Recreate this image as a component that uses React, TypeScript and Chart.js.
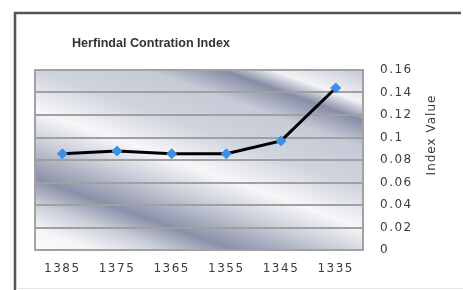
import React, { useEffect, useRef } from "react";
import { Chart, registerables } from "chart.js";

Chart.register(...registerables);

const categories = ["1385", "1375", "1365", "1355", "1345", "1335"];
const indexValues = [0.0855, 0.088, 0.0855, 0.0855, 0.097, 0.144];
const yMin = 0;
const yMax = 0.16;
const yStep = 0.02;
const chartTitle = "Herfindal Contration Index";
const yAxisTitle = "Index Value";

const gradientStops: [number, string][] = [
  [0, "#c4c9d4"],
  [0.11, "#f2f3f6"],
  [0.17, "#878da6"],
  [0.26, "#c6cad6"],
  [0.4, "#d0d4dd"],
  [0.53, "#f7f7f9"],
  [0.63, "#cbcfd9"],
  [0.76, "#8a90a9"],
  [0.84, "#c9cdd8"],
  [0.93, "#f6f6f8"],
  [1, "#fbfbfc"],
];

const decorPlugin = {
  id: "decor",
  beforeDraw(chart: any) {
    const ctx = chart.ctx as CanvasRenderingContext2D;
    const { left, top, right, bottom } = chart.chartArea;
    ctx.save();
    ctx.strokeStyle = "#555555";
    ctx.lineWidth = 2.5;
    ctx.beginPath();
    ctx.moveTo(15, 290);
    ctx.lineTo(15, 13);
    ctx.lineTo(461, 13);
    ctx.stroke();
    ctx.strokeStyle = "#e6e6e6";
    ctx.lineWidth = 1;
    ctx.beginPath();
    ctx.moveTo(16, 288.5);
    ctx.lineTo(463, 288.5);
    ctx.stroke();
    const w = right - left;
    const h = bottom - top;
    const s = 0.36;
    const t = (h + s * w) / (1 + s * s);
    const g = ctx.createLinearGradient(right, top, right - s * t, top + t);
    gradientStops.forEach(([o, c]) => g.addColorStop(o, c));
    ctx.fillStyle = g;
    ctx.fillRect(left, top, w, h);
    ctx.restore();
    (ctx as any).letterSpacing = "1.5px";
  },
  beforeDatasetsDraw(chart: any) {
    const ctx = chart.ctx as CanvasRenderingContext2D;
    const { left, top, right, bottom } = chart.chartArea;
    ctx.save();
    ctx.strokeStyle = "#a2a2a2";
    ctx.lineWidth = 2;
    ctx.strokeRect(left, top, right - left, bottom - top);
    ctx.restore();
  },
  afterDraw(chart: any) {
    const ctx = chart.ctx as CanvasRenderingContext2D;
    const { left, top, right } = chart.chartArea;
    ctx.save();
    (ctx as any).letterSpacing = "0px";
    ctx.fillStyle = "#333333";
    ctx.textBaseline = "middle";
    ctx.textAlign = "left";
    ctx.font = "bold 11px 'Liberation Sans', Arial, sans-serif";
    const mw = ctx.measureText(chartTitle).width;
    const size = (11 * 158) / mw;
    ctx.font = `bold ${size.toFixed(2)}px 'Liberation Sans', Arial, sans-serif`;
    ctx.fillText(chartTitle, left + 37, top - 26);
    (ctx as any).letterSpacing = "1px";
    ctx.font = "12px 'DejaVu Sans', sans-serif";
    ctx.fillStyle = "#383838";
    ctx.translate(right + 69, top + 65);
    ctx.rotate(-Math.PI / 2);
    ctx.textAlign = "center";
    ctx.fillText(yAxisTitle, 0, 0);
    ctx.restore();
  },
};

export default function App() {
  const ref = useRef<HTMLCanvasElement | null>(null);
  useEffect(() => {
    if (!ref.current) return;
    const chart = new Chart(ref.current, {
      type: "line",
      data: {
        labels: categories,
        datasets: [
          {
            data: indexValues,
            borderColor: "#000000",
            borderWidth: 3,
            pointStyle: "rectRot",
            pointRadius: 5,
            pointBackgroundColor: "#3d8fe8",
            pointBorderColor: "#3d8fe8",
            pointBorderWidth: 1,
            tension: 0,
          },
        ],
      },
      options: {
        animation: false,
        responsive: false,
        maintainAspectRatio: false,
        devicePixelRatio: 1,
        layout: { padding: { left: 35, top: 70, right: 0, bottom: 0 } },
        plugins: {
          legend: { display: false },
          title: { display: false },
          tooltip: { enabled: false },
        },
        scales: {
          x: {
            offset: true,
            grid: { display: false, drawTicks: false },
            border: { display: false },
            ticks: {
              color: "#3c3c3c",
              font: { family: "'DejaVu Sans', sans-serif", size: 12 },
              padding: 12,
              maxRotation: 0,
            },
            afterFit(scale: any) {
              scale.height = 40;
            },
          },
          y: {
            position: "right",
            min: yMin,
            max: yMax,
            grid: { color: "#a0a0a0", lineWidth: 2, drawTicks: false },
            border: { display: false },
            ticks: {
              stepSize: yStep,
              color: "#3c3c3c",
              font: { family: "'DejaVu Sans', sans-serif", size: 12 },
              padding: 17,
              callback: (v: any) => String(Number(Number(v).toFixed(2))),
            },
            afterFit(scale: any) {
              scale.width = 100;
            },
          },
        },
      },
      plugins: [decorPlugin],
    });
    return () => chart.destroy();
  }, []);
  return (
    <div style={{ position: "fixed", left: 0, top: 0, width: 463, height: 290, background: "#fff" }}>
      <canvas ref={ref} width={463} height={290} style={{ display: "block" }} />
    </div>
  );
}
